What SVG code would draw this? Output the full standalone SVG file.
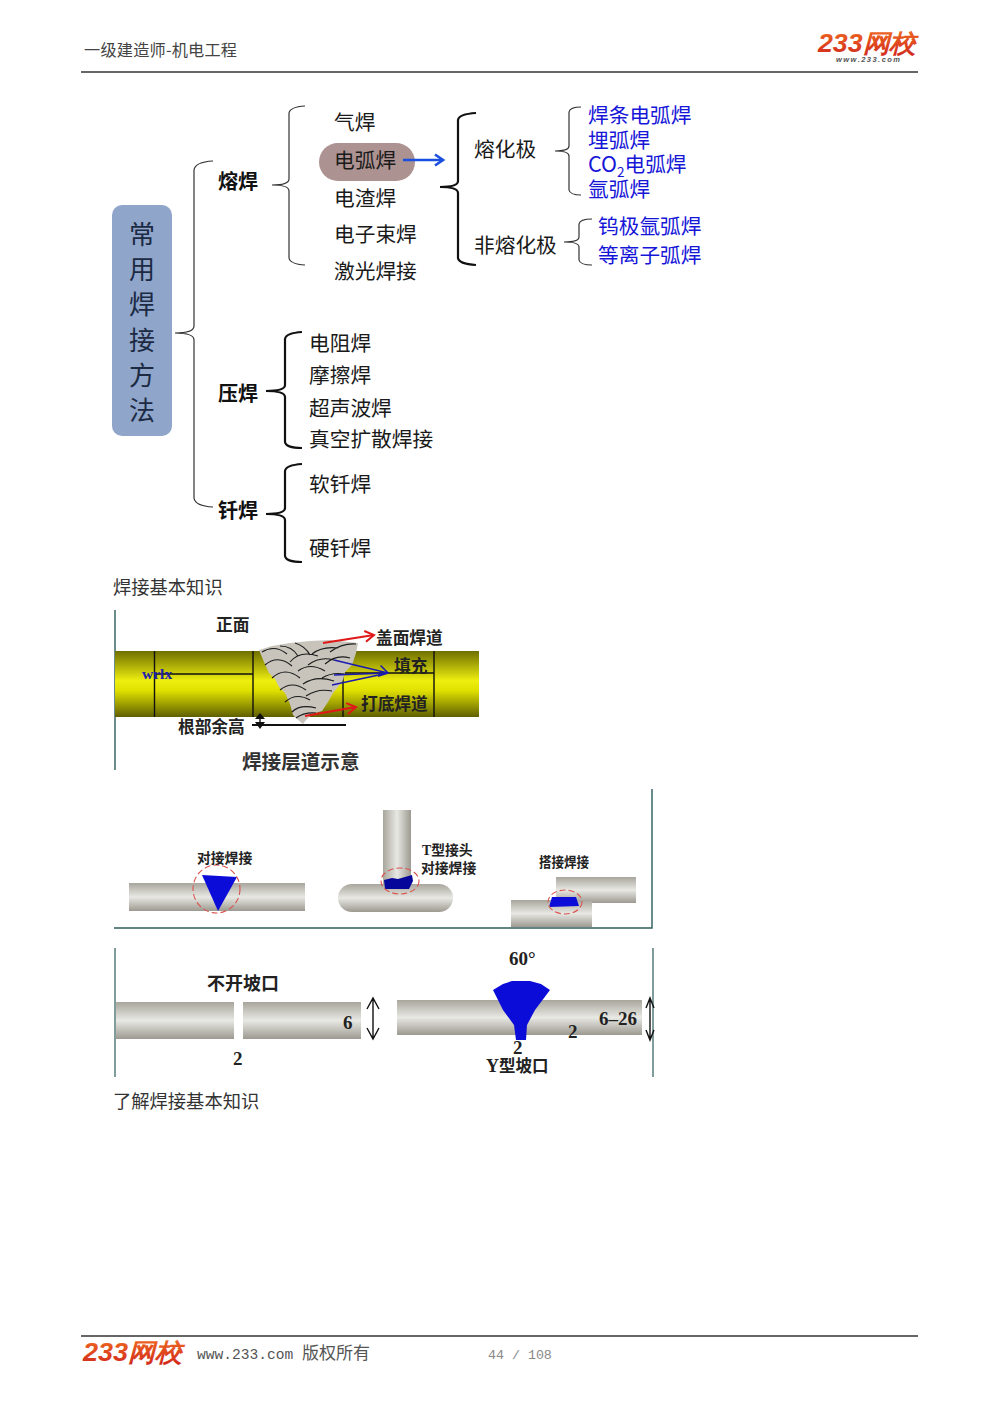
<svg xmlns="http://www.w3.org/2000/svg" width="1000" height="1415" viewBox="0 0 1000 1415">
<style>
text{font-family:"Noto Sans CJK SC","Noto Sans",sans-serif}
.t{font-size:20.7px;fill:#1a1a1a}
.b{font-size:20px;fill:#111;font-weight:700}
.u{font-size:20.7px;fill:#1616d8}
.c{font-size:26px;fill:#1c2a44;text-anchor:middle}
.cap{font-size:18.3px;fill:#333}
.l{font-size:16.7px;fill:#222;font-weight:700}
.s{font-size:13.8px;fill:#222;font-weight:700}
.n{font-family:"Liberation Serif",serif;font-size:19px;font-weight:700;fill:#222}
.br{fill:none;stroke:#333;stroke-width:1.2}
.bk{fill:none;stroke:#111;stroke-width:2.2}
.edge{fill:none;stroke:#2c5d5a;stroke-width:1.4}
.scale{fill:none;stroke:#1c1c1c;stroke-width:1.1}
.dash{fill:none;stroke:#d9534f;stroke-width:1.1;stroke-dasharray:6 3}
.logo{font-family:"Liberation Sans",sans-serif;font-weight:700;font-style:italic;fill:url(#logoG)}
</style>
<defs>
<linearGradient id="yel" x1="0" y1="0" x2="0" y2="1"><stop offset="0" stop-color="#6f6f00"/><stop offset=".45" stop-color="#eeee10"/><stop offset=".6" stop-color="#e0e000"/><stop offset="1" stop-color="#5f5f00"/></linearGradient>
<linearGradient id="gry" x1="0" y1="0" x2="0" y2="1"><stop offset="0" stop-color="#a8a69c"/><stop offset=".5" stop-color="#e8e8e4"/><stop offset="1" stop-color="#9c9a90"/></linearGradient>
<linearGradient id="gryV" x1="0" y1="0" x2="1" y2="0"><stop offset="0" stop-color="#a8a69c"/><stop offset=".5" stop-color="#e8e8e4"/><stop offset="1" stop-color="#9c9a90"/></linearGradient>
<linearGradient id="logoG" x1="0" y1="0" x2="0" y2="1"><stop offset="0" stop-color="#f06a20"/><stop offset="1" stop-color="#d0281c"/></linearGradient>
<marker id="aBlue" viewBox="0 0 14 14" refX="12" refY="7" markerWidth="14" markerHeight="14" markerUnits="userSpaceOnUse" orient="auto"><path d="M4 1.500L12 7L4 12.500" fill="none" stroke="#1a4fe0" stroke-width="2.600"/></marker>
<marker id="aRed" viewBox="0 0 14 14" refX="12" refY="7" markerWidth="14" markerHeight="14" markerUnits="userSpaceOnUse" orient="auto"><path d="M3 1.500L12 7L3 12.500" fill="none" stroke="#e01818" stroke-width="2"/></marker>
<marker id="aNavy" viewBox="0 0 14 14" refX="12" refY="7" markerWidth="14" markerHeight="14" markerUnits="userSpaceOnUse" orient="auto"><path d="M3 1.500L12 7L3 12.500" fill="none" stroke="#1a1ab0" stroke-width="1.500"/></marker>
</defs>
<rect width="1000" height="1415" fill="#fff"/>

<g id="header">
<text x="84" y="56" style="font-size:16.2px;fill:#444" textLength="153">一级建造师-机电工程</text>
<line x1="81" y1="72" x2="918" y2="72" stroke="#333" stroke-width="1.500"/>
<text class="logo" x="818" y="52" style="font-size:25px" textLength="98" lengthAdjust="spacingAndGlyphs">233网校</text>
<text x="836" y="62" style="font-family:'Liberation Sans',sans-serif;font-size:7.500px;font-style:italic;font-weight:700;fill:#555" textLength="64">www.233.com</text>
</g>

<g id="root"><rect x="112" y="205" width="60" height="231" rx="10" fill="#8fa5c9"/>
<text class="c" x="142" y="244">常</text><text class="c" x="142" y="279">用</text><text class="c" x="142" y="314">焊</text><text class="c" x="142" y="350">接</text><text class="c" x="142" y="385">方</text><text class="c" x="142" y="420">法</text></g>

<g id="connectors">
<path class="br" d="M213 161Q195 162 194 170V326Q194 333 175 333Q194 333 194 340V498Q195 506 213 507"/>
<path class="br" d="M305 106Q290 107 289 113V179Q289 185 272 185Q289 185 289 191V258Q290 264 305 265"/>
<path class="bk" d="M476 113Q459 114 458 120V181Q458 187 440 187Q458 187 458 193V258Q459 264 476 265"/>
<path class="br" d="M581 107Q570 107 569 112V146Q569 151 555 151Q569 151 569 156V190Q570 195 581 195"/>
<path class="br" d="M592 219Q580 219 579 224V237Q579 242 564 242Q579 242 579 247V260Q580 265 592 265"/>
<path class="bk" d="M302 332Q286 333 285 339V385Q285 391 266 391Q285 391 285 397V442Q286 448 302 448"/>
<path class="bk" d="M302 464Q286 465 285 471V508Q285 514 266 514Q285 514 285 520V556Q286 562 302 562"/>
</g>

<g id="rongh"><text class="b" x="218" y="189">熔焊</text></g>
<g id="yah"><text class="b" x="218" y="401">压焊</text></g>
<g id="qianh"><text class="b" x="218" y="518">钎焊</text></g>
<g id="qih"><text class="t" x="334" y="130">气焊</text></g>
<g id="dianhu"><rect x="319" y="143" width="96" height="38" rx="19" fill="#ac9290"/><text class="t" x="334" y="168">电弧焊</text>
<line x1="403" y1="160" x2="443" y2="160" stroke="#1a4fe0" stroke-width="2.400" marker-end="url(#aBlue)"/></g>
<g id="dianzha"><text class="t" x="334" y="206">电渣焊</text></g>
<g id="dianzi"><text class="t" x="334" y="242">电子束焊</text></g>
<g id="jiguang"><text class="t" x="334" y="279">激光焊接</text></g>
<g id="ronghua"><text class="t" x="474" y="157">熔化极</text></g>
<g id="feirong"><text class="t" x="474" y="253">非熔化极</text></g>
<g id="blue1"><text class="u" x="588" y="123">焊条电弧焊</text><text class="u" x="588" y="148">埋弧焊</text><text class="u" x="588" y="172"><tspan style="font-size:21.500px">CO</tspan><tspan dy="5" style="font-size:13.500px">2</tspan><tspan dy="-5">电弧焊</tspan></text><text class="u" x="588" y="197">氩弧焊</text></g>
<g id="blue2"><text class="u" x="598" y="234">钨极氩弧焊</text><text class="u" x="598" y="263">等离子弧焊</text></g>
<g id="ya-list"><text class="t" x="309" y="351">电阻焊</text><text class="t" x="309" y="383">摩擦焊</text><text class="t" x="309" y="416">超声波焊</text><text class="t" x="309" y="447">真空扩散焊接</text></g>
<g id="qian-list"><text class="t" x="309" y="492">软钎焊</text><text class="t" x="309" y="556">硬钎焊</text></g>

<text class="cap" x="113" y="594">焊接基本知识</text>

<g id="fig1">
<line class="edge" x1="115" y1="610" x2="115" y2="770"/>
<rect x="115" y="651" width="364" height="66" fill="url(#yel)"/>
<g stroke="#111" stroke-width="1.400" fill="none"><path d="M154.500 651V717M253 651V717M434 651V717M154 674H253M343 673H434M343 673V717"/>
<path d="M252 725H346" stroke-width="2"/></g>
<path d="M259 650L272 646L290 643L310 641L330 640L358 643L356 653L352 665L345 672L343 680L338 687L333 693L328 702L322 711L312 714L306 720L303 724L297 719L293 715L290 704L285 693L279 687L275 679L269 673L264 662Z" fill="#c8c4bc"/>
<g class="scale"><path d="M262 652Q275 644 287 654M280 646Q292 646 298 656M295 643Q305 646 310 655M265 665Q278 654 292 666M290 662Q300 650 318 656M312 654Q322 646 338 648M330 652Q342 643 356 644M272 678Q285 666 300 678M298 671Q310 662 325 671M308 665Q320 656 334 660M325 664Q336 654 350 658M280 690Q292 680 306 690M303 684Q316 675 334 681M322 678Q332 672 344 674M285 702Q296 692 310 700M306 696Q318 688 332 691M292 712Q300 704 316 708M296 718Q304 712 316 713"/></g>
<path d="M260 716L260 725" stroke="#111" stroke-width="1.400"/><path d="M255 719L260 713L265 719ZM255 722L260 729L265 722Z" fill="#111"/>
<g fill="none" stroke-width="2.200"><line x1="323" y1="643" x2="374" y2="635" stroke="#e01818" marker-end="url(#aRed)"/><line x1="305" y1="716" x2="356" y2="707" stroke="#e01818" marker-end="url(#aRed)"/></g>
<g stroke="#1a1ab0" stroke-width="1.400"><line x1="334" y1="660" x2="388" y2="673" marker-end="url(#aNavy)"/><line x1="334" y1="675" x2="388" y2="673"/><line x1="332" y1="685" x2="388" y2="673"/></g>
<text x="142" y="679" style="font-family:'Liberation Serif',serif;font-size:15.500px;font-weight:700;fill:#2222aa">wrlx</text>
<text class="l" x="216" y="631">正面</text><text class="l" x="376" y="644">盖面焊道</text><text class="l" x="394" y="672">填充</text><text class="l" x="361" y="710">打底焊道</text><text class="l" x="178" y="733">根部余高</text>
<text x="242" y="769" style="font-size:19.600px;fill:#333;font-weight:700">焊接层道示意</text>
</g>

<g id="fig2">
<path class="edge" d="M114 928H652V789"/>
<rect x="129" y="883" width="176" height="28" fill="url(#gry)"/>
<path d="M202 875L237 877L218 911Z" fill="#0c0cd8"/><ellipse class="dash" cx="216.500" cy="889" rx="23.500" ry="24"/>
<rect x="383" y="810" width="28" height="75" fill="url(#gryV)"/>
<rect x="338" y="884" width="115" height="28" rx="14" fill="url(#gry)"/>
<path d="M384 880L392 878L398 879L412 875L413 881L409 889L385 889Z" fill="#06069a"/><ellipse class="dash" cx="400" cy="881" rx="19" ry="13"/>
<rect x="556" y="877" width="80" height="26" fill="url(#gry)"/>
<rect x="511" y="900" width="81" height="27" fill="url(#gry)"/>
<path d="M552 897L576 897L579 906L549 907Z" fill="#0c0cd8"/><ellipse class="dash" cx="565" cy="902" rx="17" ry="12"/>
<text class="s" x="197" y="863">对接焊接</text><text class="s" x="422" y="855"><tspan style="font-family:'Liberation Serif',serif">T</tspan>型接头</text><text class="s" x="421" y="873">对接焊接</text><text class="s" x="539" y="867" textLength="50" lengthAdjust="spacingAndGlyphs">搭接焊接</text>
</g>

<g id="fig3">
<path class="edge" d="M115 948V1077M653 948V1077" style="stroke-width:1.200"/>
<rect x="116" y="1002" width="118" height="37" fill="url(#gry)"/><rect x="243" y="1002" width="118" height="37" fill="url(#gry)"/>
<rect x="397" y="1000" width="245" height="35" fill="url(#gry)"/>
<path d="M493 990L503 984L512 981L530 981L541 984L550 990L535 1010L527 1025L526 1040L516 1040L514 1025L503 1010Z" fill="#0c0cd8"/>
<g fill="none" stroke="#111" stroke-width="1.400"><path d="M373 998V1039M367 1009L373 998L379 1009M367 1028L373 1039L379 1028"/><path d="M650 998V1040M646 1008L650 998L654 1008M646 1030L650 1040L654 1030"/></g>
<text x="207" y="990" style="font-size:18px;font-weight:700;fill:#222">不开坡口</text>
<text class="n" x="343" y="1029">6</text><text class="n" x="233" y="1065">2</text><text class="n" x="509" y="965">60°</text><text class="n" x="599" y="1025">6–26</text><text class="n" x="568" y="1038">2</text><text class="n" x="513" y="1054">2</text>
<text x="486" y="1072" style="font-size:16.500px;font-weight:700;fill:#222"><tspan style="font-family:'Liberation Serif',serif;font-size:18px">Y</tspan>型坡口</text>
</g>

<text class="cap" x="113" y="1108">了解焊接基本知识</text>

<g id="footer">
<line x1="81" y1="1336" x2="918" y2="1336" stroke="#333" stroke-width="1.300"/>
<text class="logo" x="83" y="1361" style="font-size:25px" textLength="99" lengthAdjust="spacingAndGlyphs">233网校</text>
<text x="197" y="1359" style="font-family:'Liberation Mono',monospace;font-size:14.600px;fill:#555">www.233.com</text>
<text x="302" y="1359" style="font-size:17px;fill:#555">版权所有</text>
<text x="488" y="1359" style="font-family:'Liberation Mono',monospace;font-size:13.300px;fill:#888">44 / 108</text>
</g>
</svg>
